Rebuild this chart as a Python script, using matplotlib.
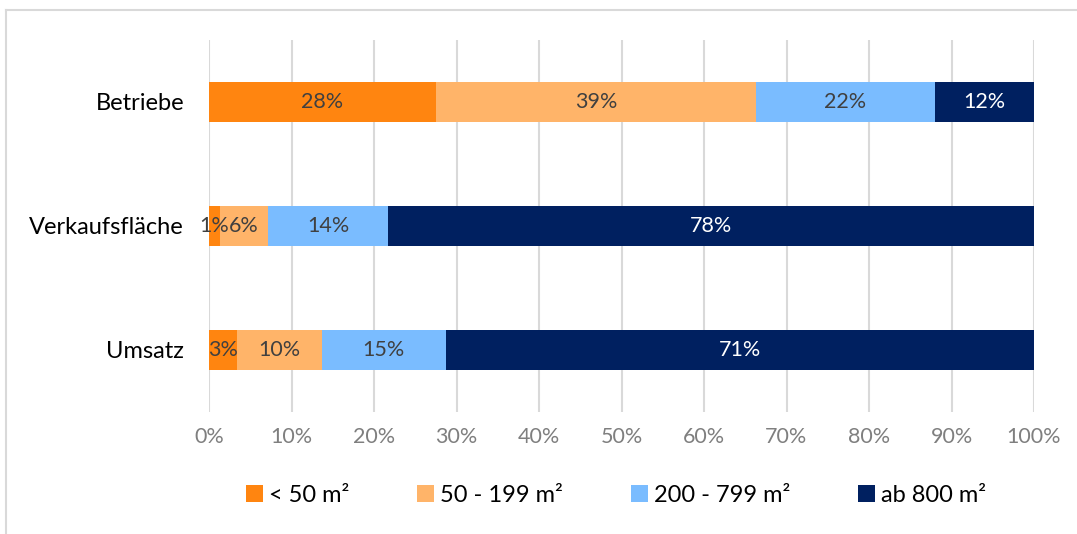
import matplotlib.pyplot as plt
from matplotlib.lines import Line2D
import numpy as np

plt.rcParams['font.family'] = ['Lato', 'DejaVu Sans']

# shares per size class, in percent
categories = ['Betriebe', 'Verkaufsfläche', 'Umsatz']
classes = ['< 50 m²', '50 - 199 m²', '200 - 799 m²', 'ab 800 m²']
lt50 = [27.5, 1.3, 3.4]
m50_199 = [38.8, 5.9, 10.3]
m200_799 = [21.7, 14.5, 15.0]
ab800 = [12.0, 78.3, 71.3]

colors = ['#FF8510', '#FFB469', '#7ABCFF', '#002060']
text_colors = ['#404040', '#404040', '#404040', 'white']

fig = plt.figure(figsize=(10.77, 5.34), dpi=100)
ax = fig.add_axes([209/1077, 122/534, 825/1077, 372/534])

y = np.arange(len(categories))
left = np.zeros(len(categories))
for vals, col, tcol, lab in zip([lt50, m50_199, m200_799, ab800], colors, text_colors, classes):
    vals = np.array(vals)
    bars = ax.barh(y, vals, left=left, height=0.315, color=col, label=lab, zorder=3)
    for b, v in zip(bars, vals):
        ax.text(b.get_x() + b.get_width() / 2, b.get_y() + b.get_height() / 2,
                f'{v:.0f}%', ha='center', va='center', color=tcol, fontsize=15.5, zorder=4)
    left += vals

ax.set_xlim(0, 100)
ax.set_ylim(2.5, -0.5)
ax.set_xticks(np.arange(0, 101, 10))
ax.set_xticklabels([f'{t}%' for t in range(0, 101, 10)], color='#7f7f7f', fontsize=15.5)
ax.set_yticks(y)
ax.set_yticklabels(categories, fontsize=17, color='black')
ax.tick_params(length=0, axis='both')
ax.tick_params(axis='x', pad=11)
ax.tick_params(axis='y', pad=18)
ax.grid(axis='x', color='#d9d9d9', linewidth=1.5, zorder=0)
for s in ax.spines.values():
    s.set_visible(False)

fig.legend(loc='center', bbox_to_anchor=(0.572, 1 - 495/534), ncol=4, frameon=False,
           fontsize=17, handlelength=0.7, handleheight=0.7, handletextpad=0.25,
           columnspacing=2.9)

# outer chart frame
fig.add_artist(Line2D([6/1077, 1], [1 - 10/534, 1 - 10/534], color='#d9d9d9', lw=1.5))
fig.add_artist(Line2D([6/1077, 6/1077], [0, 1 - 10/534], color='#d9d9d9', lw=1.5))

fig.savefig('out.png', dpi=100)
